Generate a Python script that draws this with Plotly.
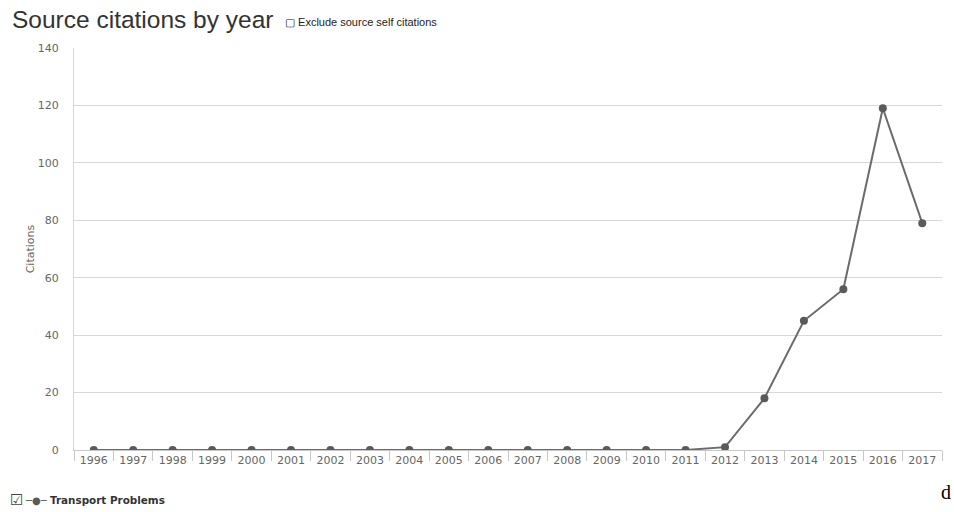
import plotly.graph_objects as go

years = list(range(1996, 2018))
citations = [0, 0, 0, 0, 0, 0, 0, 0, 0, 0, 0, 0, 0, 0, 0, 0, 1, 18, 45, 56, 119, 79]
y_ticks = [0, 20, 40, 60, 80, 100, 120, 140]
series_name = "Transport Problems"

TICKFONT = "DejaVu Sans, Verdana, sans-serif"
SANS = "Liberation Sans, Arial, sans-serif"

fig = go.Figure()
fig.add_trace(go.Scatter(
    x=years, y=citations, mode="lines+markers", name=series_name,
    line=dict(color="#6b6b6b", width=2),
    marker=dict(color="#5a5a5a", size=8),
    showlegend=False,
))

fig.update_layout(
    width=954, height=512,
    margin=dict(l=74, r=12, t=48, b=62, autoexpand=False),
    paper_bgcolor="white", plot_bgcolor="white",
    font=dict(family=TICKFONT, color="#666666"),
    showlegend=False,
    xaxis=dict(
        range=[1995.5, 2017.5], tickmode="array", tickvals=years,
        ticktext=[str(y) for y in years], ticks="", showgrid=False, zeroline=False,
        showline=True, linecolor="#c8c8c8", linewidth=1,
        tickfont=dict(size=11, color="#666666", family=TICKFONT),
        minor=dict(tickmode="linear", tick0=1995.5, dtick=1, ticks="outside",
                   ticklen=10, tickcolor="#c8c8c8", showgrid=False),
    ),
    yaxis=dict(
        range=[0, 140], tickmode="array", tickvals=y_ticks, showgrid=True,
        gridcolor="#d8d8d8", gridwidth=1, zeroline=False,
        showline=True, linecolor="#d8d8d8", linewidth=1,
        tickfont=dict(size=11, color="#666666", family=TICKFONT), ticklabelstandoff=12,
        title=dict(text="Citations", font=dict(size=11, color="#666666", family=TICKFONT), standoff=0),
    ),
    annotations=[
        dict(text="Source citations by year", xref="paper", yref="paper",
             x=-0.0737, y=1.0697, xanchor="left", yanchor="middle", showarrow=False,
             font=dict(size=24.5, color="#333333", family=SANS)),
        dict(text="▢ Exclude source self citations", xref="paper", yref="paper",
             x=0.2408, y=1.0647, xanchor="left", yanchor="middle", showarrow=False,
             font=dict(size=11, color="#222222", family=SANS)),
        dict(text="☑", xref="paper", yref="paper",
             x=-0.0760, y=-0.1244, xanchor="left", yanchor="middle", showarrow=False,
             font=dict(size=15, color="#444444", family="DejaVu Sans")),
        dict(text="─●─", xref="paper", yref="paper",
             x=-0.0585, y=-0.1244, xanchor="left", yanchor="middle", showarrow=False,
             font=dict(size=10, color="#5a5a5a", family="DejaVu Sans")),
        dict(text="<b>" + series_name + "</b>", xref="paper", yref="paper",
             x=-0.0300, y=-0.1244, xanchor="left", yanchor="middle", showarrow=False,
             font=dict(size=10.4, color="#333333", family=TICKFONT)),
        dict(text="d", xref="paper", yref="paper",
             x=1.0127, y=-0.1045, xanchor="right", yanchor="middle", showarrow=False,
             font=dict(size=20, color="#000000", family="Liberation Serif, serif")),
    ],
)

fig.write_html("out.html", config={"displayModeBar": False},
               post_script="document.body.style.margin='0px';document.body.style.overflow='hidden';")
